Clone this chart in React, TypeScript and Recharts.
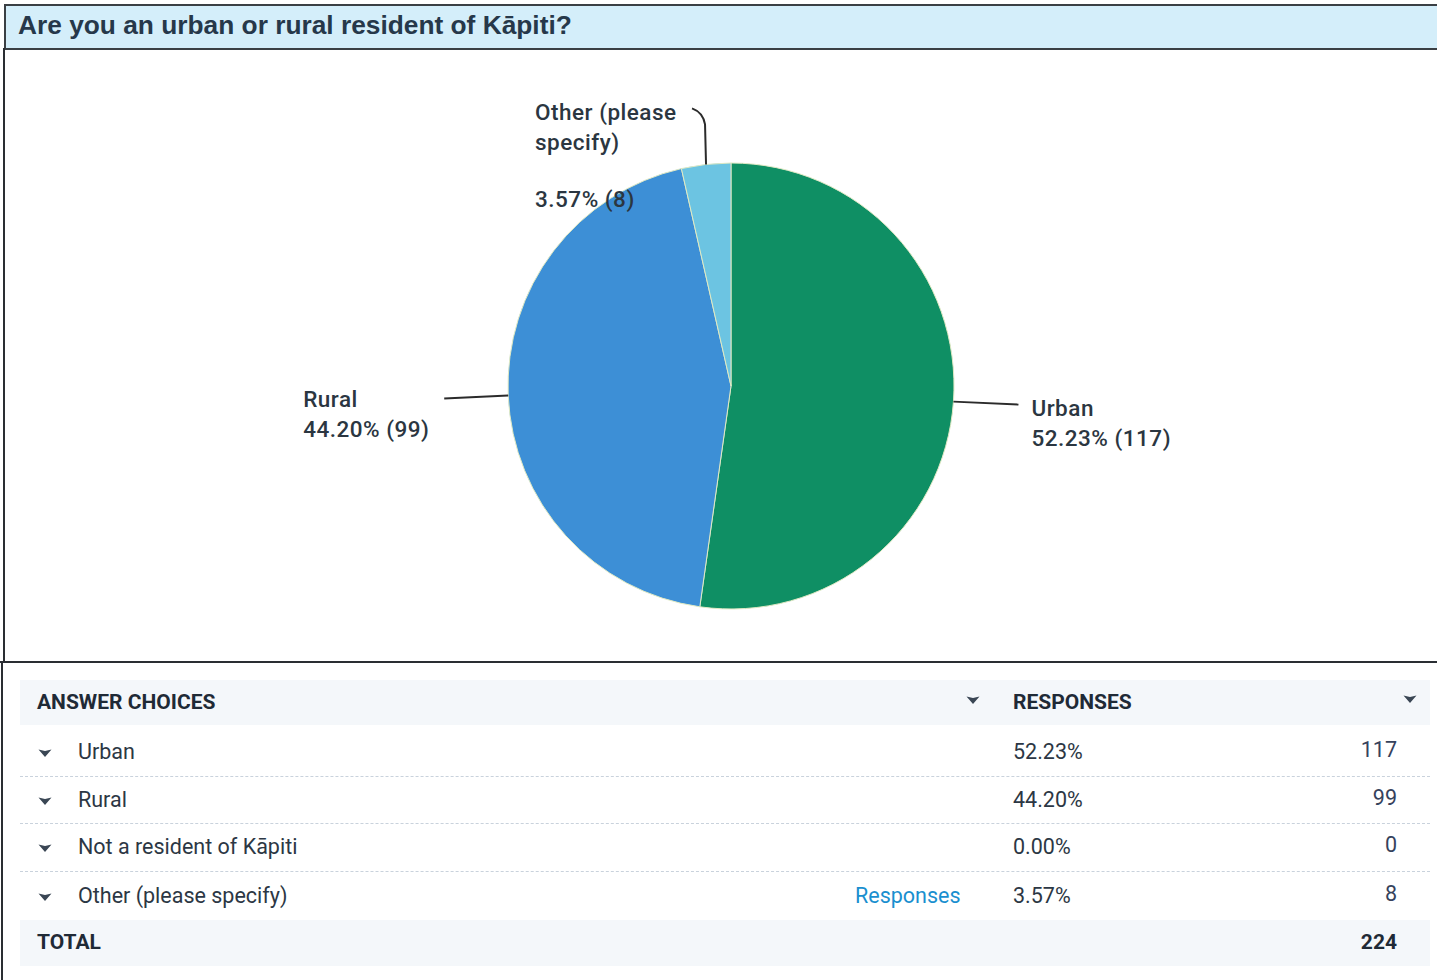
import React from 'react';
import { PieChart, Pie, Cell } from 'recharts';

const title = 'Are you an urban or rural resident of Kāpiti?';
const categories = ['Urban', 'Rural', 'Not a resident of Kāpiti', 'Other (please specify)'];
const counts = [117, 99, 0, 8];
const pieNameLines = [['Urban'], ['Rural'], ['Not a resident of Kāpiti'], ['Other (please', 'specify)']];
const sliceColors = ['#0f8f64', '#3d8fd6', '#8fcbe8', '#6cc4e2'];
const hasResponsesLink = [false, false, false, true];

const total = counts.reduce((a, b) => a + b, 0);
const pct = (v: number) => ((v / total) * 100).toFixed(2) + '%';

const pieData = categories
  .map((name, i) => ({ name, value: counts[i], lines: pieNameLines[i], color: sliceColors[i] }))
  .filter((d) => d.value > 0);

const RADIAN = Math.PI / 180;
const LABEL_FONT = 'Roboto, "Open Sans", sans-serif';
const LABEL_COLOR = '#2b3641';

const renderLabel = (p: any) => {
  const { cx, cy, midAngle, outerRadius, payload, value } = p;
  const cos = Math.cos(-midAngle * RADIAN);
  const sin = Math.sin(-midAngle * RADIAN);
  const sx = cx + outerRadius * cos;
  const sy = cy + outerRadius * sin;
  const lines: string[] = payload.lines;
  const valueText = `${pct(value)} (${value})`;
  const textProps = {
    fontFamily: LABEL_FONT,
    fontSize: 22.5,
    fontWeight: 500,
    letterSpacing: 0.5,
    fill: LABEL_COLOR,
    dominantBaseline: 'central' as const,
    textAnchor: 'start' as const,
  };
  if (Math.abs(cos) < 0.3 && sin < 0) {
    // top label
    const tx = sx - 171;
    return (
      <g>
        <path
          d={`M${sx},${sy} L${sx - 1},${sy - 40} Q${sx - 3},${sy - 52} ${sx - 14},${sy - 56}`}
          stroke="#2b2b2b"
          strokeWidth={2}
          fill="none"
        />
        {lines.map((l, i) => (
          <text key={i} x={tx} y={sy - 52 + i * 30} {...textProps}>
            {l}
          </text>
        ))}
        <text x={tx} y={sy + 35} {...textProps}>
          {valueText}
        </text>
      </g>
    );
  }
  if (cos >= 0) {
    const ex = sx + 65;
    const ey = sy + 3;
    return (
      <g>
        <path d={`M${sx},${sy} L${ex},${ey}`} stroke="#2b2b2b" strokeWidth={2} fill="none" />
        {lines.map((l, i) => (
          <text key={i} x={ex + 13} y={ey + 3 + i * 30} {...textProps}>
            {l}
          </text>
        ))}
        <text x={ex + 13} y={ey + 3 + lines.length * 30} {...textProps}>
          {valueText}
        </text>
      </g>
    );
  }
  const ex = sx - 64;
  const ey = sy + 3;
  const tx = ex - 141;
  return (
    <g>
      <path d={`M${sx},${sy} L${ex},${ey}`} stroke="#2b2b2b" strokeWidth={2} fill="none" />
      {lines.map((l, i) => (
        <text key={i} x={tx} y={ey + 1 + i * 30} {...textProps}>
          {l}
        </text>
      ))}
      <text x={tx} y={ey + 1 + lines.length * 30} {...textProps}>
        {valueText}
      </text>
    </g>
  );
};

const Arrow = ({ x, y }: { x: number; y: number }) => (
  <svg
    width={16}
    height={10}
    style={{ position: 'absolute', left: x - 8, top: y - 5 }}
    viewBox="0 0 16 10"
  >
    <path d="M1.5,1.5 L8,3 L14.5,1.5 L8,9 Z" fill="#3a4654" />
  </svg>
);

const TABLE_FONT = 'Roboto, "Open Sans", sans-serif';
const rowCenters = [752, 800, 847, 896];
const BODY_SIZE = 21.5;
const HEAD_SIZE = 21;

export default function App() {
  return (
    <div
      style={{
        position: 'absolute',
        left: 0,
        top: 0,
        width: 1437,
        height: 980,
        background: '#ffffff',
        overflow: 'hidden',
      }}
    >
      {/* title bar */}
      <div
        style={{
          position: 'absolute',
          left: 4,
          top: 4,
          width: 1440,
          height: 42,
          background: '#d4eefa',
          borderTop: '2px solid #3a3f44',
          borderBottom: '2px solid #3a3f44',
          borderLeft: '2px solid #3a3f44',
        }}
      />
      <div
        style={{
          position: 'absolute',
          left: 18,
          top: 9,
          fontFamily: '"Liberation Sans", Arial, sans-serif',
          fontWeight: 700,
          fontSize: 26.3,
          color: '#26384a',
          lineHeight: '32px',
          whiteSpace: 'nowrap',
        }}
      >
        {title}
      </div>
      {/* left border */}
      <div style={{ position: 'absolute', left: 3, top: 48, width: 2, height: 614, background: '#2a2e33' }} />
      <div style={{ position: 'absolute', left: 1, top: 662, width: 2, height: 318, background: '#2a2e33' }} />
      {/* separator */}
      <div style={{ position: 'absolute', left: 0, top: 661, width: 1437, height: 2, background: '#2a2e33' }} />

      {/* pie */}
      <div style={{ position: 'absolute', left: 0, top: 0 }}>
        <PieChart width={1437} height={660} margin={{ top: 0, right: 0, bottom: 0, left: 0 }}>
          <Pie
            data={pieData}
            dataKey="value"
            nameKey="name"
            cx={731}
            cy={386}
            outerRadius={223}
            startAngle={90}
            endAngle={-270}
            isAnimationActive={false}
            label={renderLabel}
            labelLine={false}
            stroke="#dfe9c4"
            strokeWidth={1}
          >
            {pieData.map((d, i) => (
              <Cell key={i} fill={d.color} />
            ))}
          </Pie>
        </PieChart>
      </div>

      {/* table */}
      <div style={{ position: 'absolute', left: 20, top: 680, width: 1410, height: 45, background: '#f4f7fa' }} />
      <div style={{ position: 'absolute', left: 20, top: 920, width: 1410, height: 46, background: '#f4f7fa' }} />
      {[776, 823, 871].map((y) => (
        <div
          key={y}
          style={{ position: 'absolute', left: 20, top: y, width: 1410, height: 0, borderTop: '1px dashed #c9d2dc' }}
        />
      ))}
      <div
        style={{
          position: 'absolute',
          left: 37,
          top: 702 - 14,
          fontFamily: TABLE_FONT,
          fontWeight: 700,
          fontSize: HEAD_SIZE,
          lineHeight: '28px',
          color: '#1f2a36',
        }}
      >
        ANSWER CHOICES
      </div>
      <Arrow x={973} y={700} />
      <div
        style={{
          position: 'absolute',
          left: 1013,
          top: 702 - 14,
          fontFamily: TABLE_FONT,
          fontWeight: 700,
          fontSize: HEAD_SIZE,
          lineHeight: '28px',
          color: '#1f2a36',
        }}
      >
        RESPONSES
      </div>
      <Arrow x={1410} y={699} />
      {categories.map((c, i) => {
        const y = rowCenters[i];
        return (
          <React.Fragment key={c}>
            <Arrow x={45} y={y + 1} />
            <div
              style={{
                position: 'absolute',
                left: 78,
                top: y - 14,
                fontFamily: TABLE_FONT,
                fontSize: BODY_SIZE,
                lineHeight: '28px',
                color: '#2c3744',
                whiteSpace: 'nowrap',
              }}
            >
              {c}
            </div>
            {hasResponsesLink[i] && (
              <div
                style={{
                  position: 'absolute',
                  left: 855,
                  top: y - 14,
                  fontFamily: TABLE_FONT,
                  fontSize: BODY_SIZE,
                  lineHeight: '28px',
                  color: '#1a8fcf',
                }}
              >
                Responses
              </div>
            )}
            <div
              style={{
                position: 'absolute',
                left: 1013,
                top: y - 14,
                fontFamily: TABLE_FONT,
                fontSize: BODY_SIZE,
                lineHeight: '28px',
                color: '#2c3744',
              }}
            >
              {pct(counts[i])}
            </div>
            <div
              style={{
                position: 'absolute',
                right: 1437 - 1397,
                top: y - 16,
                fontFamily: TABLE_FONT,
                fontSize: BODY_SIZE,
                lineHeight: '28px',
                color: '#36425c',
                textAlign: 'right',
              }}
            >
              {counts[i]}
            </div>
          </React.Fragment>
        );
      })}
      <div
        style={{
          position: 'absolute',
          left: 37,
          top: 942 - 14,
          fontFamily: TABLE_FONT,
          fontWeight: 700,
          fontSize: HEAD_SIZE,
          lineHeight: '28px',
          color: '#1f2a36',
        }}
      >
        TOTAL
      </div>
      <div
        style={{
          position: 'absolute',
          right: 1437 - 1397,
          top: 942 - 14,
          fontFamily: TABLE_FONT,
          fontWeight: 700,
          fontSize: HEAD_SIZE,
          lineHeight: '28px',
          color: '#1f2a36',
        }}
      >
        {total}
      </div>
    </div>
  );
}
